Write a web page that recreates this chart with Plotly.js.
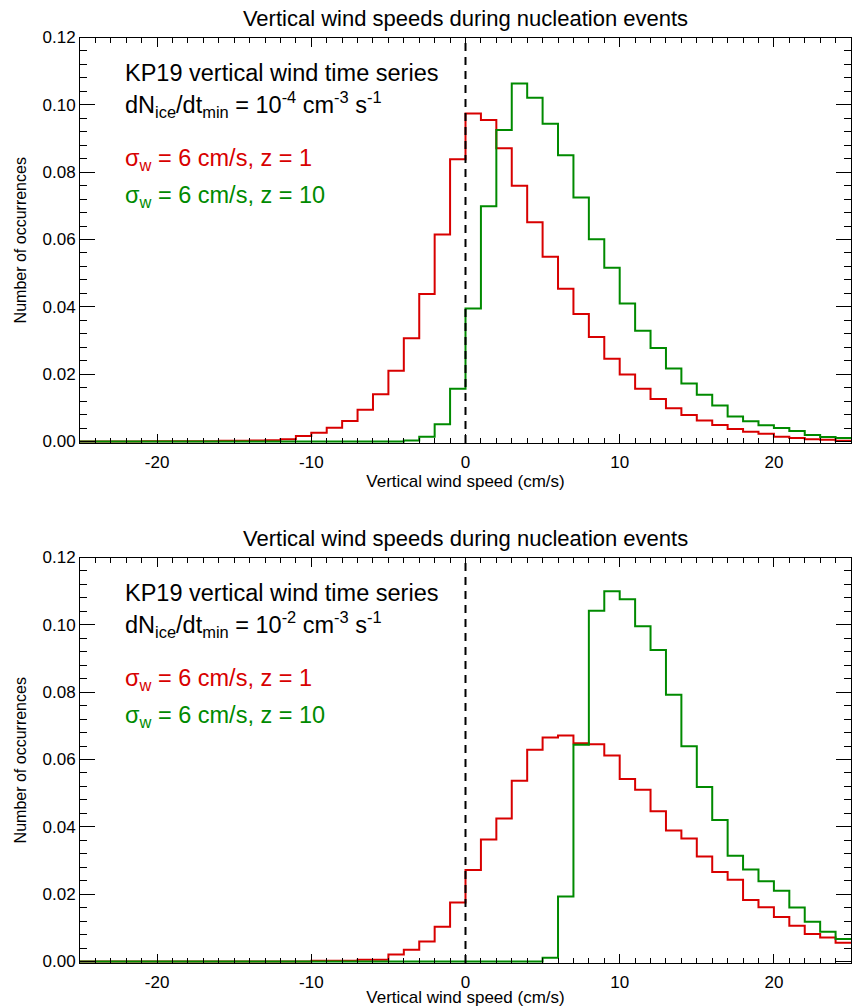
<!DOCTYPE html>
<html>
<head>
<meta charset="utf-8">
<script src="https://cdn.plot.ly/plotly-3.0.1.min.js"></script>
<style>html,body{margin:0;padding:0;background:#fff;}</style>
</head>
<body>
<div id="chart" style="width:852px;height:1007px;"></div>
<script>
// Bin left edges (cm/s), bin width 1
var binEdges = [-25,-24,-23,-22,-21,-20,-19,-18,-17,-16,
                -15,-14,-13,-12,-11,-10,-9,-8,-7,-6,
                -5,-4,-3,-2,-1,0,1,2,3,4,
                5,6,7,8,9,10,11,12,13,14,
                15,16,17,18,19,20,21,22,23,24];
var lastEdge = 25;

// Top panel: dN/dt_min = 1e-4
var topRed = [0,0,0,0,0.00005,0.00005,0.0001,0.0001,0.0001,0.0002,
              0.0002,0.0003,0.0004,0.0007,0.0016,0.0026,0.0041,0.0061,0.0094,0.0140,
              0.0210,0.0307,0.0438,0.0615,0.0838,0.0974,0.0955,0.0871,0.0760,0.0651,
              0.0549,0.0454,0.0379,0.0310,0.0246,0.0199,0.0157,0.0126,0.0099,0.0079,
              0.0062,0.0049,0.0037,0.0029,0.0023,0.0014,0.0010,0.0007,0.0005,0.0002];
var topGreen = [0,0,0,0,0,0,0,0,0,0,
                0,0,0,0,0,0,0,0,0,0,
                0,0.0003,0.0014,0.0051,0.0157,0.0395,0.0699,0.0925,0.1063,0.1021,
                0.0944,0.0850,0.0725,0.0601,0.0516,0.0410,0.0329,0.0278,0.0217,0.0172,
                0.0139,0.0107,0.0074,0.0060,0.0048,0.0040,0.0031,0.0019,0.0013,0.0010];

// Bottom panel: dN/dt_min = 1e-2
var botRed = [0,0,0,0,0,0,0,0,0,0,
              0,0,0,0,0,0.0002,0.0002,0.0002,0.0005,0.0005,
              0.0021,0.0035,0.0059,0.0103,0.0175,0.0272,0.0362,0.0425,0.0537,0.0629,
              0.0665,0.0671,0.0648,0.0645,0.0612,0.0542,0.0510,0.0446,0.0389,0.0365,
              0.0312,0.0266,0.0243,0.0183,0.0161,0.0132,0.0106,0.0082,0.0071,0.0056];
var botGreen = [0,0,0,0,0,0,0,0,0,0,
                0,0,0,0,0,0,0,0,0,0,
                0,0,0,0,0,0,0,0,0,0,
                0.0011,0.0193,0.0644,0.1042,0.1100,0.1076,0.0996,0.0925,0.0792,0.0639,
                0.0518,0.0420,0.0314,0.0273,0.0238,0.0210,0.0160,0.0118,0.0088,0.0067];

var xTickVals = [-20,-10,0,10,20];
var xTickLabels = ['-20','-10','0','10','20'];
var yTickVals = [0,0.02,0.04,0.06,0.08,0.10,0.12];
var yTickLabels = ['0.00','0.02','0.04','0.06','0.08','0.10','0.12'];

var chartTitle = 'Vertical wind speeds during nucleation events';
var xTitle = 'Vertical wind speed (cm/s)';
var yTitle = 'Number of occurrences';
var header1 = 'KP19 vertical wind time series';
var headerTop = 'dN<sub>ice</sub>/dt<sub>min</sub> = 10<sup>-4</sup> cm<sup>-3</sup> s<sup>-1</sup>';
var headerBot = 'dN<sub>ice</sub>/dt<sub>min</sub> = 10<sup>-2</sup> cm<sup>-3</sup> s<sup>-1</sup>';
var labelRed = '&#963;<sub>w</sub> = 6 cm/s, z = 1';
var labelGreen = '&#963;<sub>w</sub> = 6 cm/s, z = 10';

var RED = '#d80000';
var GREEN = '#008a00';
var FONT = 'Liberation Sans, Arial, Helvetica, sans-serif';

function stepXY(vals) {
  var xs = binEdges.concat([lastEdge]);
  var ys = vals.concat([vals[vals.length - 1]]);
  return {x: xs, y: ys};
}
function trace(vals, color, xa, ya) {
  var s = stepXY(vals);
  return {x: s.x, y: s.y, type: 'scatter', mode: 'lines',
          line: {shape: 'hv', color: color, width: 2},
          xaxis: xa, yaxis: ya, hoverinfo: 'skip'};
}

var data = [
  trace(topRed, RED, 'x', 'y'),
  trace(topGreen, GREEN, 'x', 'y'),
  trace(botRed, RED, 'x2', 'y2'),
  trace(botGreen, GREEN, 'x2', 'y2')
];

function xAxis(anchor) {
  return {
    anchor: anchor, domain: [0, 1], range: [-25, 25],
    tickmode: 'array', tickvals: xTickVals, ticktext: xTickLabels,
    ticks: 'inside', ticklen: 9, tickwidth: 1, tickcolor: '#000',
    minor: {ticks: 'inside', ticklen: 5, dtick: 1, tick0: 0, tickcolor: '#000', tickwidth: 1},
    showline: true, linecolor: '#000', linewidth: 1, mirror: 'ticks',
    showgrid: false, zeroline: false, automargin: false,
    ticklabelstandoff: 4,
    tickfont: {size: 17, family: FONT, color: '#000'},
    title: {text: xTitle, font: {size: 17, family: FONT, color: '#000'}, standoff: 0}
  };
}
function yAxis(anchor, dom) {
  return {
    anchor: anchor, domain: dom, range: [-0.00045, 0.12],
    tickmode: 'array', tickvals: yTickVals, ticktext: yTickLabels,
    ticks: 'inside', ticklen: 15, tickwidth: 1, tickcolor: '#000',
    minor: {ticks: 'inside', ticklen: 7, dtick: 0.004, tick0: 0, tickcolor: '#000', tickwidth: 1},
    showline: true, linecolor: '#000', linewidth: 1, mirror: 'ticks',
    showgrid: false, zeroline: false, automargin: false,
    tickfont: {size: 17, family: FONT, color: '#000'},
    title: {text: yTitle, font: {size: 16, family: FONT, color: '#000'}, standoff: 11}
  };
}

var ANN = 23.5;
var annFont = {family: FONT, size: ANN, color: '#000'};
function panelAnn(xr, yr, header) {
  return [
    {xref: xr, yref: yr, x: 0.056, y: 0.912, xanchor: 'left', yanchor: 'middle', showarrow: false, text: header1, font: annFont},
    {xref: xr, yref: yr, x: 0.056, y: 0.834, xanchor: 'left', yanchor: 'middle', showarrow: false, text: header, font: annFont},
    {xref: xr, yref: yr, x: 0.056, y: 0.698, xanchor: 'left', yanchor: 'middle', showarrow: false, text: labelRed, font: {family: FONT, size: ANN, color: RED}},
    {xref: xr, yref: yr, x: 0.056, y: 0.607, xanchor: 'left', yanchor: 'middle', showarrow: false, text: labelGreen, font: {family: FONT, size: ANN, color: GREEN}}
  ];
}

var annotations = panelAnn('x domain', 'y domain', headerTop)
  .concat(panelAnn('x2 domain', 'y2 domain', headerBot))
  .concat([{xref: 'paper', yref: 'paper', x: 0.5, y: 1 - 538 / 1007, xanchor: 'center', yanchor: 'middle',
            showarrow: false, text: chartTitle, font: {family: FONT, size: 22, color: '#000'}}]);

var layout = {
  width: 852, height: 1007,
  margin: {l: 80, r: 1, t: 0, b: 0, pad: 0},
  paper_bgcolor: '#fff', plot_bgcolor: '#fff',
  showlegend: false,
  font: {family: FONT, color: '#000'},
  title: {text: chartTitle, font: {family: FONT, size: 22, color: '#000'},
          xref: 'paper', x: 0.5, xanchor: 'center', yref: 'container', y: 1 - 18 / 1007, yanchor: 'middle'},
  xaxis: xAxis('y'),
  yaxis: yAxis('x', [1 - 443 / 1007, 1 - 37.5 / 1007]),
  xaxis2: xAxis('y2'),
  yaxis2: yAxis('x2', [1 - 963 / 1007, 1 - 557.5 / 1007]),
  shapes: [
    {type: 'line', xref: 'x', yref: 'y domain', x0: 0, x1: 0, y0: 0, y1: 1, layer: 'above',
     line: {color: '#000', width: 2, dash: '8px,6px'}},
    {type: 'line', xref: 'x2', yref: 'y2 domain', x0: 0, x1: 0, y0: 0, y1: 1, layer: 'above',
     line: {color: '#000', width: 2, dash: '8px,6px'}}
  ],
  annotations: annotations
};

Plotly.newPlot('chart', data, layout, {staticPlot: true, displayModeBar: false});
</script>
</body>
</html>
